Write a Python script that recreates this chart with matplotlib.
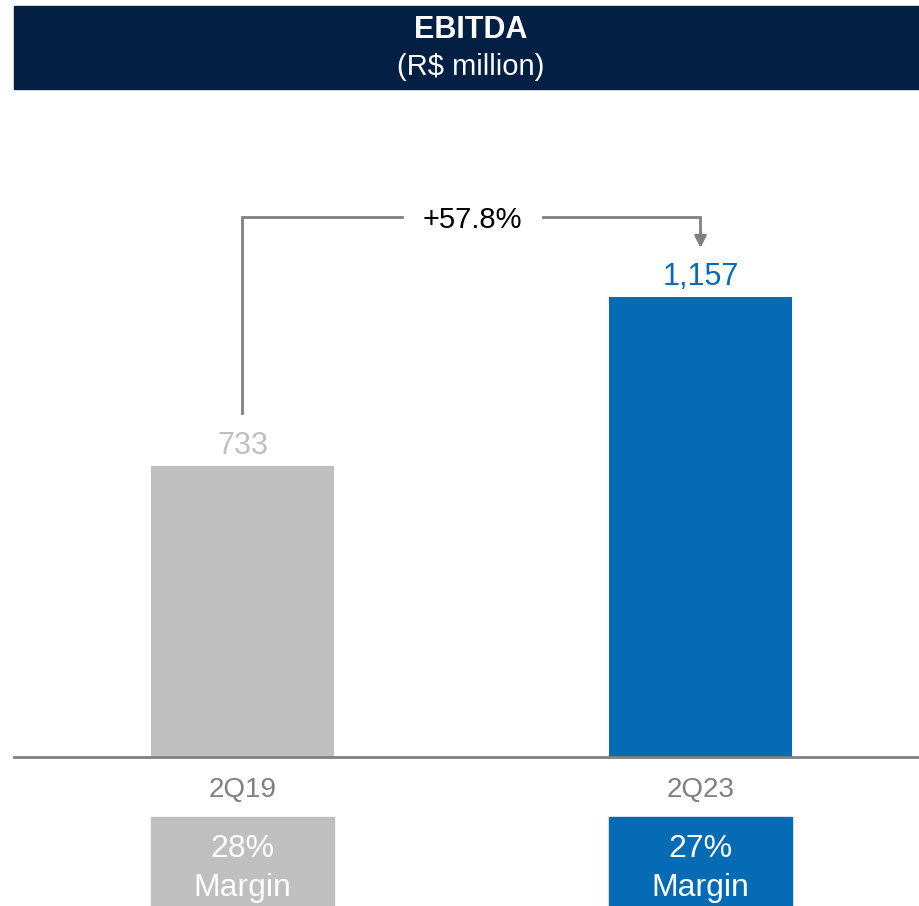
import matplotlib
matplotlib.use("Agg")
import matplotlib.pyplot as plt
from matplotlib.patches import Rectangle

plt.rcParams['font.family'] = ['Liberation Sans', 'DejaVu Sans']

W, H, DPI = 920, 906, 100

NAVY = '#041f44'
GREY_BAR = '#bfbfbf'
BLUE = '#056bb5'
AXIS_GREY = '#808080'

periods = ['2Q19', '2Q23']
ebitda = [733, 1157]
margins = ['28%', '27%']
growth = '+57.8%'
bar_colors = [GREY_BAR, BLUE]
value_colors = [GREY_BAR, BLUE]

fig = plt.figure(figsize=(W / DPI, H / DPI), dpi=DPI)

# title band
fig.patches.append(Rectangle((14 / W, 1 - 89 / H), 1 - 14 / W, 83 / H,
                             transform=fig.transFigure, color=NAVY, zorder=0))
fig.text(471 / W, 1 - 38 / H, 'EBITDA', ha='center', va='baseline',
         color='white', fontsize=22, fontweight='bold')
fig.text(471 / W, 1 - 75 / H, '(R$ million)', ha='center', va='baseline',
         color='white', fontsize=21)

# bar area: baseline at y=757px, 460px for 1157
px_per_unit = 460 / 1157
base_px = 757
ax = fig.add_axes([14 / W, 1 - base_px / H, 1 - 14 / W, (base_px - 89) / H])
ax.set_xlim(-(242.5 - 14) / 458, 1 + (W - 700.5) / 458)
ax.set_ylim(0, (base_px - 89) / px_per_unit)
for s in ax.spines.values():
    s.set_visible(False)
ax.set_xticks([])
ax.set_yticks([])

x = range(len(periods))
ax.bar(x, ebitda, width=0.4, color=bar_colors, zorder=2)
ax.axhline(0, color=AXIS_GREY, lw=2, zorder=3, clip_on=False)


def px_to_y(py):
    return (base_px - py) / px_per_unit


for i, v in enumerate(ebitda):
    ax.text(i, v + 12 / px_per_unit, f'{v:,}', ha='center', va='baseline',
            color=value_colors[i], fontsize=22)
    ax.text(i, px_to_y(797), periods[i], ha='center', va='baseline',
            color=AXIS_GREY, fontsize=20, clip_on=False)
    ax.add_patch(Rectangle((i - 0.2, px_to_y(906)), 0.4, px_to_y(817) - px_to_y(906),
                           color=bar_colors[i], clip_on=False, zorder=2))
    ax.text(i, px_to_y(857), margins[i], ha='center', va='baseline',
            color='white', fontsize=23, clip_on=False, zorder=3)
    ax.text(i, px_to_y(896), 'Margin', ha='center', va='baseline',
            color='white', fontsize=23, clip_on=False, zorder=3)

# growth connector
top_y = px_to_y(217)
gap_l, gap_r = (402 - 242.5) / 458, (543 - 242.5) / 458
ax.plot([0, 0, gap_l], [px_to_y(413), top_y, top_y], color=AXIS_GREY, lw=2,
        solid_joinstyle='miter', clip_on=False)
ax.plot([gap_r, 1, 1], [top_y, top_y, px_to_y(234)], color=AXIS_GREY, lw=2,
        solid_joinstyle='miter', clip_on=False)
ax.annotate('', xy=(1, px_to_y(248)), xytext=(1, px_to_y(232)),
            arrowprops=dict(arrowstyle='-|>,head_length=0.7,head_width=0.35',
                            color=AXIS_GREY, lw=2, shrinkA=0, shrinkB=0))
ax.text((gap_l + gap_r) / 2, px_to_y(228), growth, ha='center', va='baseline',
        color='black', fontsize=21)

fig.savefig('out.png', dpi=DPI)
